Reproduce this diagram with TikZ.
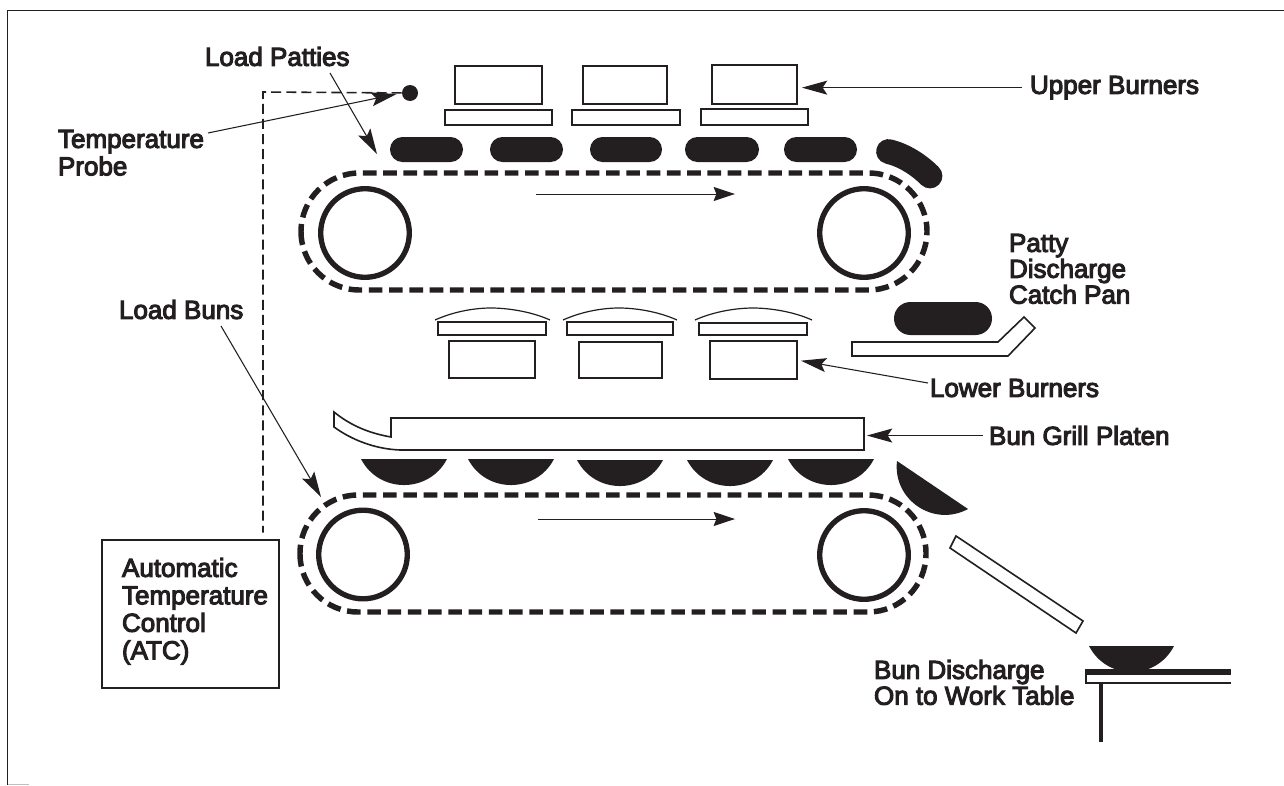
\documentclass[tikz,border=0pt]{standalone}
\usepackage{fontspec}
\usetikzlibrary{arrows.meta,fit}
\newfontfamily\labfont[FakeBold=4]{Liberation Sans}
\definecolor{ink}{HTML}{231F20}
\tikzset{
  x=0.75pt,y=-0.75pt,
  frameline/.style={ink,line width=1.1pt},
  boxn/.style={draw=ink,line width=1.4pt,inner sep=0pt,outer sep=0pt,fill=white,rectangle},
  belt/.style={ink,line width=4.1pt,dash pattern=on 10.2pt off 5pt},
  roller/.style={draw=ink,line width=4pt},
  wire/.style={ink,line width=1.2pt,dash pattern=on 7.5pt off 3.8pt},
  ptr/.style={ink,line width=.8pt,-{Stealth[length=19pt,width=10.5pt,inset=3.5pt]}},
  flowarrow/.style={ink,line width=.7pt,-{Stealth[length=16pt,width=10.5pt,inset=2pt]}},
  outlined/.style={draw=ink,line width=1.2pt,fill=white,line join=miter},
  food/.style={fill=ink},
  lab/.style={text=ink,inner sep=0pt,outer sep=0pt,anchor=north west,align=left,font=\labfont\fontsize{19.5pt}{20.6pt}\selectfont},
  tightlab/.style={lab,font=\labfont\fontsize{19.5pt}{19.4pt}\selectfont},
}
\newcommand{\pattyshape}[4]{\fill[food,rounded corners=9.3pt] (#1,#3) rectangle (#2,#4);}
\newcommand{\bunshape}[3]{% x0, x1, ytop
  \fill[food] (#1,#3) .. controls (#1+18,#3+34.7) and (#2-18,#3+34.7) .. (#2,#3) -- cycle;}
\begin{document}
\begin{tikzpicture}
\useasboundingbox (0,0) rectangle (1284,785);
% frame
\draw[frameline] (1284,10.5) -- (7.5,10.5) -- (7.5,785);
\draw[gray!50,line width=.8pt] (8,784.4) -- (29,784.4);
% upper burners
\node[boxn,fit={(455,66)(542,104)}] (ub1) {};
\node[boxn,fit={(583,66)(667,104)}] (ub2) {};
\node[boxn,fit={(712,65)(797,104)}] (ub3) {};
\node[boxn,fit={(445,110)(552,125)}] (up1) {};
\node[boxn,fit={(572,110)(680,125)}] (up2) {};
\node[boxn,fit={(701,109)(808,125)}] (up3) {};
% patties
\pattyshape{390}{463}{137}{162}
\pattyshape{490}{563}{137}{162}
\pattyshape{590}{662}{137}{162}
\pattyshape{685}{759}{137}{162}
\pattyshape{784}{857}{137}{162}
\draw[ink,line width=18.6pt,line cap=round] (888.5,151.5) .. controls (903,155) and (918,164) .. (930,176);
% upper belt
\draw[belt,rounded corners=43.9pt] (301,173) rectangle (927,290);
\draw[roller] (365,233) circle[radius=44.3];
\draw[roller] (864,233) circle[radius=44.3];
\coordinate (flowAs) at (536,194);
\coordinate (flowAe) at (735,194);
\draw[flowarrow] (flowAs) -- (flowAe);
% lower burners
\foreach \xa/\xb/\xc in {435/491/550,563/619/677,695/753/812}{
  \draw[ink,line width=.9pt] (\xa,320) .. controls (\xa+20,311) and (\xb-15,308) .. (\xb,308) .. controls (\xb+15,308) and (\xc-20,311) .. (\xc,320);
}
\node[boxn,fit={(438,322)(546,335)}] (lp1) {};
\node[boxn,fit={(567,322)(673,335)}] (lp2) {};
\node[boxn,fit={(699,323)(807,335)}] (lp3) {};
\node[boxn,fit={(449,341)(535,378)}] (lb1) {};
\node[boxn,fit={(579,342)(662,378)}] (lb2) {};
\node[boxn,fit={(710,341)(797,379)}] (lb3) {};
% catch pan and discharged patty
\fill[food,rounded corners=12.3pt] (894,302) rectangle (992,335);
\draw[outlined] (852,342) -- (998,342) -- (1024,317) -- (1035,328) -- (1008,356) -- (852,356) -- cycle;
% platen
\draw[outlined] (334,412) .. controls (350,425) and (368,433) .. (391,437) -- (391,418) -- (864,418) -- (864,450) -- (400,450)
  .. controls (375,449) and (352,440) .. (334,427) -- cycle;
\coordinate (platen) at (864,434);
% buns
\bunshape{361}{447}{459}
\bunshape{468}{554}{459}
\bunshape{577}{663}{460}
\bunshape{687}{773}{460}
\bunshape{788}{874}{459}
\fill[food] (897,461) .. controls (892.5,499.8) and (933.7,527.6) .. (968,509) -- cycle;
% lower belt
\draw[belt,rounded corners=43.5pt] (300,495) rectangle (926,612);
\draw[roller] (363,554.5) circle[radius=44.3];
\draw[roller] (864,555) circle[radius=44.3];
\coordinate (flowBs) at (538,519);
\coordinate (flowBe) at (735,519);
\draw[flowarrow] (flowBs) -- (flowBe);
% slide
\draw[outlined] (956,536) -- (1083,621) -- (1076,633) -- (950,548) -- cycle;
% table
\begin{scope}
\clip (1080,640) rectangle (1180,672);
\bunshape{1089}{1174}{646}
\end{scope}
\draw[ink,line width=1.8pt] (1231,683) -- (1086,683) -- (1086,670);
\draw[ink,line width=4pt] (1085,672) -- (1231,672);
\draw[ink,line width=2.7pt] (1101,683) -- (1101,742);
% ATC
\node[boxn,fit={(102,540)(279,688)}] (atc) {};
\node[lab] (lblATC) at (122,558) {Automatic\\Temperature\\Control\\(ATC)};
% probe and wire
\node[circle,fill=ink,inner sep=0pt,minimum size=12pt] (probe) at (410,93) {};
\coordinate (wirecorner) at (263,92);
\draw[wire,shorten >=5.5pt] (probe) -- (wirecorner) -- (wirecorner |- atc.north);
% labels
\node[lab] (lblPatties) at (205,47) {Load Patties};
\node[lab] (lblProbe) at (58,130) {Temperature\\Probe};
\node[lab] (lblBuns) at (119,300) {Load Buns};
\node[lab] (lblUpper) at (1030,76) {Upper Burners};
\node[tightlab] (lblPan) at (1009,234) {Patty\\Discharge\\Catch Pan};
\node[lab] (lblLower) at (930,379) {Lower Burners};
\node[lab] (lblPlaten) at (989,426) {Bun Grill Platen};
\node[tightlab] (lblTable) at (874,660) {Bun Discharge\\On to Work Table};
% pointers
\coordinate (tailPatties) at (330,73);
\coordinate (tipPatties) at (377,154);
\coordinate (tailProbe) at (208,133);
\coordinate (tailBuns) at (221,326);
\coordinate (tipBuns) at (321,497);
\coordinate (tailLower) at (928,383);
\draw[ptr,shorten >=4pt] (tailProbe) -- (probe.west);
\draw[ptr] (tailPatties) -- (tipPatties);
\draw[ptr] (tailBuns) -- (tipBuns);
\draw[ptr,shorten <=6pt,shorten >=3.7pt] (lblUpper.west) -- (lblUpper.west -| ub3.east);
\draw[ptr,shorten >=3pt] (tailLower) -- (lb3.east);
\draw[ptr,shorten <=4.5pt,shorten >=2.2pt] (lblPlaten.west) -- (lblPlaten.west -| platen);
\end{tikzpicture}
\end{document}
